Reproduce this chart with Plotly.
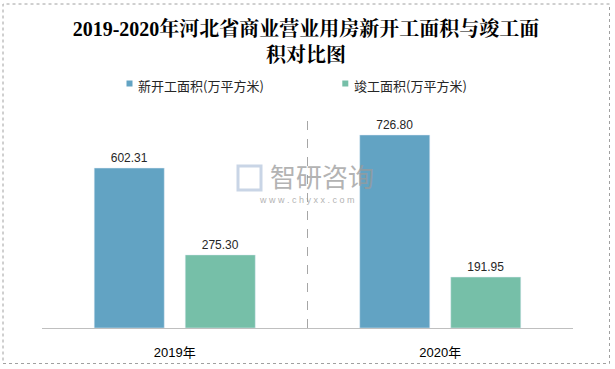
import plotly.graph_objects as go

categories = ["2019年", "2020年"]
series_names = ["新开工面积(万平方米)", "竣工面积(万平方米)"]
new_start = [602.31, 726.80]
completed = [275.30, 191.95]
colors = ["#62A3C3", "#76BFA8"]

fig = go.Figure()
for name, vals, c in zip(series_names, [new_start, completed], colors):
    fig.add_trace(go.Bar(
        x=categories, y=vals, name=name, marker_color=c,
        text=[f"{v:.2f}" for v in vals], textposition="outside",
        textfont=dict(size=12, color="#262626", family="Liberation Sans, Arial"),
        cliponaxis=False, showlegend=False,
    ))

L, R, T, B = 42, 42, 115, 41
W, H = 615, 369
pw, ph = W - L - R, H - T - B


def px(xp):
    return (xp - L) / pw


def py(yp):
    return (H - B - yp) / ph


fig.update_layout(
    width=W, height=H,
    margin=dict(l=L, r=R, t=T, b=B, autoexpand=False),
    paper_bgcolor="white", plot_bgcolor="white",
    barmode="group", bargap=0.3145, bargroupgap=0.23,
    title=dict(
        text="<b>2019-2020年河北省商业营业用房新开工面积与竣工面<br>积对比图</b>",
        x=306 / W, xanchor="center", y=1 - 36 / H, yanchor="top",
        font=dict(size=20, color="#000000",
                  family="Liberation Serif, Noto Serif CJK SC, Noto Sans CJK SC"),
    ),
    xaxis=dict(
        showline=True, linecolor="#BFBFBF", linewidth=1,
        ticks="", ticklabelstandoff=12,
        tickfont=dict(size=13, color="#000000", family="Liberation Sans, Noto Sans CJK SC"),
        showgrid=False, fixedrange=True,
    ),
    yaxis=dict(range=[0, 802], visible=False, showgrid=False, fixedrange=True),
    showlegend=False,
)

# manual legend
legend_items = [(126.5, 136, colors[0], series_names[0]), (342.3, 352, colors[1], series_names[1])]
for sx, tx, c, name in legend_items:
    fig.add_shape(type="rect", xref="paper", yref="paper",
                  x0=px(sx), x1=px(sx + 6), y0=py(86.5), y1=py(80.5),
                  fillcolor=c, line=dict(width=0))
    fig.add_annotation(xref="paper", yref="paper", x=px(tx), y=py(85.5), text=name,
                       xanchor="left", yanchor="middle", showarrow=False,
                       font=dict(size=13, color="#262626", family="Noto Sans CJK SC"))

# dashed separator between years
fig.add_shape(type="line", xref="x", yref="paper", x0=0.5, x1=0.5, y0=0, y1=1,
              line=dict(color="#A6A6A6", width=1, dash="dash"))

# outer frame
fig.add_shape(type="rect", xref="paper", yref="paper",
              x0=px(3), x1=px(609.5), y0=py(363.5), y1=py(4),
              line=dict(color="#A0A0A0", width=1, dash="dot"), layer="below")

# watermark
fig.add_annotation(xref="paper", yref="paper", x=px(322), y=py(175), text="智研咨询",
                   xanchor="center", yanchor="middle",
                   showarrow=False, font=dict(size=26, color="#9A9A9A", family="Noto Sans CJK SC"),
                   opacity=0.75)
fig.add_annotation(xref="paper", yref="paper", x=px(307), y=py(200), text="w w w . c h y x x . c o m",
                   xanchor="center", yanchor="middle",
                   showarrow=False, font=dict(size=9, color="#9A9A9A", family="Liberation Sans"),
                   opacity=0.75)
fig.add_shape(type="rect", xref="paper", yref="paper",
              x0=px(238), x1=px(261), y0=py(190), y1=py(166),
              line=dict(color="#B8C8DE", width=3), opacity=0.75)

fig.write_html("out.html", config={"displayModeBar": False},
               post_script="document.body.style.margin='0';document.body.style.padding='0';")
